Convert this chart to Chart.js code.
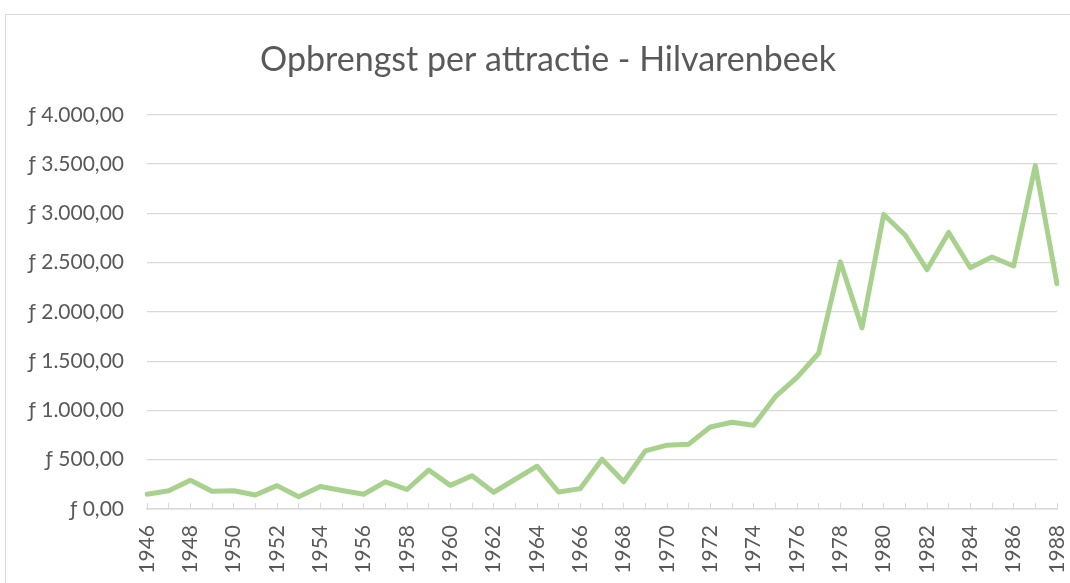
<!DOCTYPE html>
<html>
<head>
<meta charset="utf-8">
<script src="https://cdn.jsdelivr.net/npm/chart.js@4"></script>
<style>
  html, body { margin: 0; padding: 0; background: #fff; overflow: hidden; }
  #wrap { position: relative; width: 1070px; height: 583px; }
  #frame { position: absolute; left: 5px; top: 14px; width: 1100px; height: 600px; border: 1px solid #d9d9d9; }
  canvas { position: absolute; left: 0; top: 0; }
</style>
</head>
<body>
<div id="wrap">
  <div id="frame"></div>
  <canvas id="myChart" width="1070" height="583"></canvas>
</div>
<script>
// data
var years = [];
for (var y = 1946; y <= 1988; y++) years.push(String(y));

var opbrengst = [
    150, 185, 292, 180, 185, 142, 237, 124, 228, 188,
    150, 276, 198, 395, 240, 338, 170, 302, 434, 172,
    207, 505, 276, 590, 648, 658, 832, 880, 850, 1140,
    1335, 1580, 2508, 1838, 2988, 2778, 2428, 2806, 2448, 2557,
    2466, 3484, 2285
];

var yTicks = [0, 500, 1000, 1500, 2000, 2500, 3000, 3500, 4000];

function gulden(v) {
    var parts = v.toFixed(2).split('.');
    var whole = parts[0].replace(/\B(?=(\d{3})+(?!\d))/g, '.');
    return '\u0192 ' + whole + ',' + parts[1];
}

var ctx = document.getElementById('myChart').getContext('2d');
var chart = new Chart(ctx, {
    type: 'line',
    data: {
        labels: years,
        datasets: [{
            label: 'Opbrengst',
            data: opbrengst,
            borderColor: '#a9d18e',
            borderWidth: 5,
            borderJoinStyle: 'round',
            borderCapStyle: 'round',
            pointRadius: 0,
            tension: 0,
            fill: false
        }]
    },
    options: {
        responsive: false,
        animation: false,
        // the chart frame runs past the right edge, so the title box does too
        layout: { padding: { left: 0, right: -26, top: 0, bottom: 0 } },
        plugins: {
            legend: { display: false },
            tooltip: { enabled: false },
            title: {
                display: true,
                text: 'Opbrengst per attractie - Hilvarenbeek',
                color: '#595959',
                font: { family: 'Lato', size: 34, weight: 'normal' },
                padding: { top: 40, bottom: 34 }
            }
        },
        scales: {
            x: {
                offset: false,
                grid: {
                    drawOnChartArea: false,
                    color: '#d9d9d9',
                    tickLength: -6,
                    lineWidth: 1
                },
                border: { color: '#d9d9d9', width: 1.5 },
                ticks: {
                    autoSkip: false,
                    minRotation: 90,
                    maxRotation: 90,
                    padding: 22,
                    color: '#595959',
                    font: { family: 'Lato', size: 21 },
                    callback: function (val, i) {
                        return i % 2 === 0 ? years[i] : '';
                    }
                },
                afterFit: function (scale) {
                    scale.height = 74;
                    scale.paddingLeft = 0;
                    scale.paddingRight = 0;
                }
            },
            y: {
                min: 0,
                max: 4000,
                afterBuildTicks: function (scale) {
                    scale.ticks = yTicks.map(function (v) { return { value: v }; });
                },
                grid: { color: '#d9d9d9', lineWidth: 1.3, drawTicks: false },
                border: { display: false },
                ticks: {
                    padding: 23,
                    color: '#595959',
                    font: { family: 'Lato', size: 21 },
                    callback: function (v) { return gulden(v); }
                },
                afterFit: function (scale) {
                    scale.width = 147;
                    scale.paddingTop = 0;
                    scale.paddingBottom = 0;
                }
            },
            // empty spacer on the right
            yRight: {
                position: 'right',
                display: true,
                min: 0,
                max: 4000,
                grid: { display: false },
                border: { display: false },
                ticks: { display: false },
                afterFit: function (scale) {
                    scale.width = 39;
                    scale.paddingTop = 0;
                    scale.paddingBottom = 0;
                }
            }
        }
    }
});
</script>
</body>
</html>
